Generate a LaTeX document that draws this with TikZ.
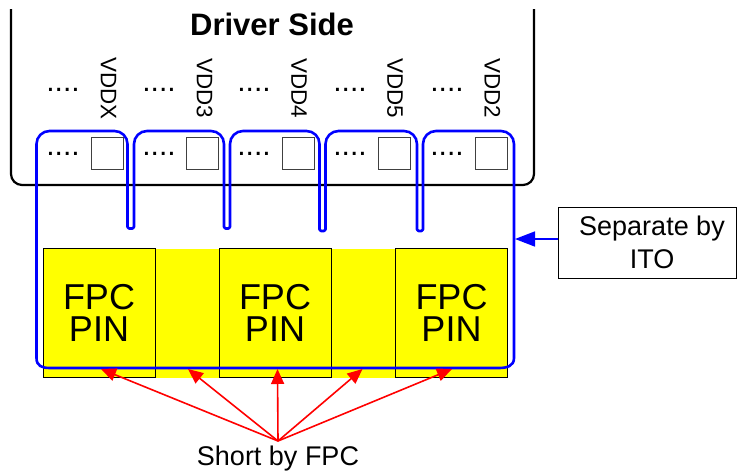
\documentclass[tikz,border=0pt]{standalone}
\usepackage{fontspec}
\setmainfont{Liberation Sans}
\usetikzlibrary{arrows.meta}
\definecolor{pureyellow}{RGB}{255,255,0}
\definecolor{purered}{RGB}{255,0,0}
\definecolor{pureblue}{RGB}{0,0,255}
\tikzset{
  fpcbox/.style={draw=black,line width=0.9pt,minimum width=112pt,minimum height=129pt,inner sep=0pt,align=center,
    font=\fontsize{36}{32.5}\selectfont},
  padbox/.style={draw=black!75,line width=1pt,minimum width=32pt,minimum height=32pt,inner sep=0pt},
  dots/.style={anchor=base,inner sep=0pt,font=\fontsize{30}{30}\selectfont},
  vddlabel/.style={rotate=-90,inner sep=0pt,font=\fontsize{22.4}{22}\selectfont},
  shortarrow/.style={draw=purered,line width=1.6pt,-{Triangle[length=15pt,width=13pt]}},
  itoarrow/.style={draw=pureblue,line width=1.6pt,-{Triangle[length=20pt,width=15pt]}},
  blueline/.style={draw=pureblue,line width=2.6pt,line join=round},
}
\begin{document}
\begin{tikzpicture}[x=1pt,y=-1pt]
\useasboundingbox (0,0) rectangle (737,471);
% yellow area and pins
\node[fill=pureyellow,minimum width=464pt,minimum height=129pt,inner sep=0pt] (yellowarea) at (275,313) {};
\node[fpcbox] (pin1) at (99,313) {FPC\\PIN};
\node[fpcbox] (pin2) at (275,313) {FPC\\PIN};
\node[fpcbox] (pin3) at (451.5,313) {FPC\\PIN};
% driver outline
\draw[black,line width=2.2pt,rounded corners=11pt] (11,9) -- (11,185) -- (534,185) -- (534,9);
\node[anchor=base,inner sep=0pt,font=\fontsize{31}{32}\selectfont\bfseries] (title) at (272,35) {Driver Side};
% labels
\node[vddlabel] (vdd1) at (108.5,88.5) {VDDX};
\node[vddlabel] (vdd2) at (204.5,88.5) {VDD3};
\node[vddlabel] (vdd3) at (299,88.5) {VDD4};
\node[vddlabel] (vdd4) at (395,88) {VDD5};
\node[vddlabel] (vdd5) at (492.5,88) {VDD2};
% dots
\foreach \n/\x in {1/63,2/159,3/254,4/350,5/447}{
  \node[dots] (dotsa\n) at (\x,91) {....};
  \node[dots] (dotsb\n) at (\x,155) {....};
}
% pads
\node[padbox] (pad1) at (107,153.5) {};
\node[padbox] (pad2) at (202.7,153.5) {};
\node[padbox] (pad3) at (298.2,153.5) {};
\node[padbox] (pad4) at (394,153.5) {};
\node[padbox] (pad5) at (491.7,153.5) {};
% blue ITO outline
\draw[blueline] (36.5,350)
  [rounded corners=13pt] -- (36.5,131) -- (127.5,131)
  [rounded corners=1.5pt] -- (127.5,228.5) -- (134,228.5)
  [rounded corners=13pt] -- (134,131) -- (224,131)
  [rounded corners=1.5pt] -- (224,228.5) -- (230,228.5)
  [rounded corners=13pt] -- (230,131) -- (319.5,131)
  [rounded corners=1.5pt] -- (319.5,231) -- (325.5,231)
  [rounded corners=13pt] -- (325.5,131) -- (417,131)
  [rounded corners=1.5pt] -- (417,231) -- (423,231)
  [rounded corners=13pt] -- (423,131) -- (514,131)
  [sharp corners] -- (514,358) .. controls (514,366) and (507,368) .. (499,368)
  -- (50,368) .. controls (42,368) and (36.5,366) .. (36.5,358) -- cycle;
% Separate by ITO
\node[draw=black,line width=1pt,minimum width=178pt,minimum height=71pt,inner sep=0pt,align=center,
  font=\fontsize{27}{32.5}\selectfont] (sep) at (647,242.5) {\hspace{10pt}Separate by\\\hspace{10pt}ITO};
\coordinate (itotip) at (515,239);
\draw[itoarrow] (itotip -| sep.west) -- (itotip);
% Short by FPC
\node[anchor=base,inner sep=0pt,font=\fontsize{27}{32}\selectfont] (short) at (278,465) {Short by FPC};
\coordinate (hub) at (278,441);
\coordinate (t1) at (101,369);
\coordinate (t2) at (188,369);
\coordinate (t3) at (277.5,369);
\coordinate (t4) at (362.5,369);
\coordinate (t5) at (452,369);
\foreach \t in {t1,t2,t3,t4,t5} \draw[shortarrow] (hub) -- (\t);
\end{tikzpicture}
\end{document}
